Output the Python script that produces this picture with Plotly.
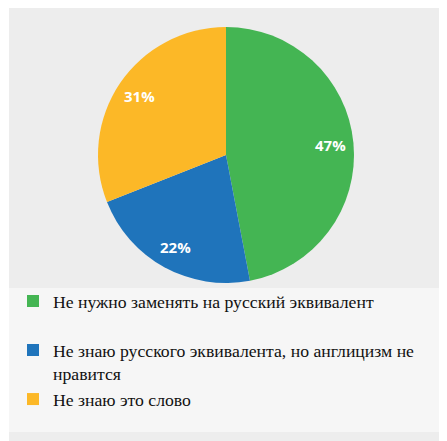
import math
import plotly.graph_objects as go

labels = [
    "Не нужно заменять на русский эквивалент<br> ",
    "Не знаю русского эквивалента, но англицизм не<br>нравится",
    "Не знаю это слово",
]
values = [47, 22, 31]
colors = ["#44b553", "#1f74bb", "#fcb827"]

W, H = 447, 441
# pie placement (figure pixels)
CX, CY, R = 218, 147, 128
dom_y = [1 - (CY + R) / H, 1 - (CY - R) / H]
dom_x = [CX / W - 0.3075, CX / W + 0.3075]

fig = go.Figure(
    go.Pie(
        labels=labels,
        values=values,
        sort=False,
        direction="clockwise",
        rotation=0,
        marker=dict(colors=colors, line=dict(width=0)),
        textinfo="none",
        domain=dict(x=dom_x, y=dom_y),
        hoverinfo="percent",
    )
)

# percentage labels placed near the outer part of each slice
total = sum(values)
cum = 0
annotations = []
for v in values:
    mid = (cum + v / 2) / total * 2 * math.pi
    cum += v
    px = CX + 0.82 * R * math.sin(mid)
    py = CY - 0.82 * R * math.cos(mid)
    annotations.append(dict(
        x=px / W, y=1 - py / H, xref="paper", yref="paper",
        xanchor="center", yanchor="middle",
        text=f"{round(v / total * 100)}%", showarrow=False,
        font=dict(family="Open Sans", size=15, color="white", weight="bold"),
    ))

fig.update_layout(
    width=W,
    height=H,
    margin=dict(l=0, r=0, t=0, b=0),
    paper_bgcolor="white",
    showlegend=True,
    annotations=annotations,
    legend=dict(
        x=5 / W,
        y=1 - 275 / H,
        xanchor="left",
        yanchor="top",
        valign="top",
        bgcolor="rgba(0,0,0,0)",
        font=dict(family="Liberation Serif", size=17.7, color="#111111"),
        tracegroupgap=0,
        itemwidth=30,
    ),
    shapes=[
        dict(type="rect", xref="paper", yref="paper", x0=1 / W, x1=1.0, y0=0, y1=1.0,
             fillcolor="#ededed", line=dict(width=0), layer="below"),
        dict(type="rect", xref="paper", yref="paper", x0=1 / W, x1=1.0, y0=1 - 424 / H, y1=1 - 280 / H,
             fillcolor="#f6f6f6", line=dict(width=0), layer="below"),
    ],
)

fig.write_html("out.html")
